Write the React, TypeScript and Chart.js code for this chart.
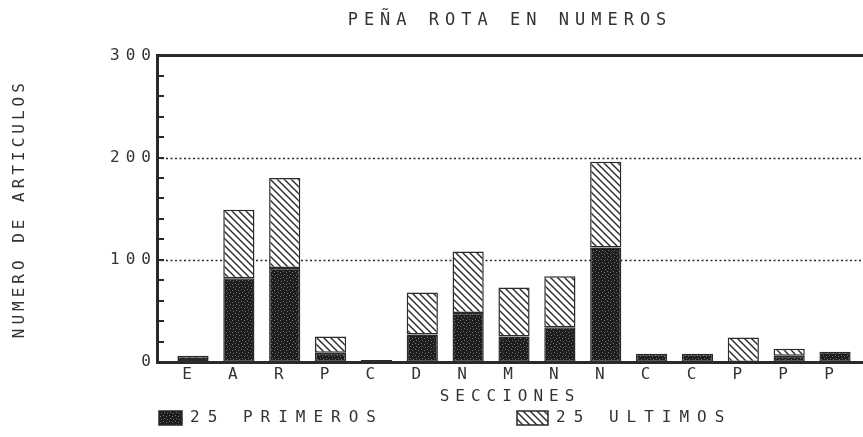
import React, { useEffect, useRef } from 'react';
import { Chart, registerables } from 'chart.js';

Chart.register(...registerables);

const TITLE = 'PEÑA ROTA EN NUMEROS';
const X_TITLE = 'SECCIONES';
const Y_TITLE = 'NUMERO DE ARTICULOS';
const LEGEND_LABELS = ['25 PRIMEROS', '25 ULTIMOS'];

const sections = ['E', 'A', 'R', 'P', 'C', 'D', 'N', 'M', 'N', 'N', 'C', 'C', 'P', 'P', 'P'];
const primeros: (number | null)[] = [3, 82, 92, 9, 2, 27, 48, 25, 34, 112, 8, 8, null, 6, 10];
const ultimos: (number | null)[] = [3, 67, 88, 16, null, 41, 60, 48, 50, 84, null, null, 24, 7, null];

const yTicks = [0, 100, 200, 300];
const MINOR_STEP = 20;

const FONT_FAMILY = "'DejaVu Sans Mono', monospace";
const INK = '#2a2a2a';
const TEXT = '#333333';

function makeDarkPattern(ctx: CanvasRenderingContext2D) {
  const c = document.createElement('canvas');
  c.width = 6;
  c.height = 6;
  const g = c.getContext('2d')!;
  g.fillStyle = '#1e1e1e';
  g.fillRect(0, 0, 6, 6);
  g.fillStyle = '#707070';
  g.fillRect(1, 1, 1, 1);
  g.fillRect(4, 2, 1, 1);
  g.fillRect(2, 4, 1, 1);
  g.fillRect(5, 5, 1, 1);
  return ctx.createPattern(c, 'repeat')!;
}

function makeHatchPattern(ctx: CanvasRenderingContext2D) {
  const s = 7;
  const c = document.createElement('canvas');
  c.width = s;
  c.height = s;
  const g = c.getContext('2d')!;
  g.fillStyle = '#ffffff';
  g.fillRect(0, 0, s, s);
  g.strokeStyle = '#2a2a2a';
  g.lineWidth = 1.4;
  g.beginPath();
  g.moveTo(-2, -2);
  g.lineTo(s + 2, s + 2);
  g.moveTo(-2, s - 2);
  g.lineTo(2, s + 2);
  g.moveTo(s - 2, -2);
  g.lineTo(s + 2, 2);
  g.stroke();
  return ctx.createPattern(c, 'repeat')!;
}

export default function App() {
  const canvasRef = useRef<HTMLCanvasElement | null>(null);

  useEffect(() => {
    const canvas = canvasRef.current;
    if (!canvas) return;
    const ctx0 = canvas.getContext('2d')!;
    const dark = makeDarkPattern(ctx0);
    const hatch = makeHatchPattern(ctx0);
    const font = { family: FONT_FAMILY, size: 16, weight: 'normal' as const };

    const paper = {
      id: 'paper',
      afterLayout(chart: any) {
        const y = chart.scales.y;
        if (y && !y.__patched) {
          const orig = y.drawTitle.bind(y);
          y.drawTitle = (...args: any[]) => {
            const c = chart.ctx;
            const prev = c.letterSpacing;
            c.letterSpacing = '4px';
            orig(...args);
            c.letterSpacing = prev;
          };
          y.__patched = true;
        }
      },
      beforeDraw(chart: any) {
        chart.ctx.letterSpacing = '6px';
      },
      beforeDatasetsDraw(chart: any) {
        const { ctx, chartArea: a, scales } = chart;
        const y = scales.y;
        ctx.save();
        ctx.strokeStyle = INK;
        ctx.lineWidth = 1.6;
        ctx.setLineDash([2, 2.5]);
        yTicks
          .filter((v) => v > 0 && v < 300)
          .forEach((v) => {
            const py = Math.round(y.getPixelForValue(v)) + 0.5;
            ctx.beginPath();
            ctx.moveTo(a.left, py);
            ctx.lineTo(a.right, py);
            ctx.stroke();
          });
        ctx.setLineDash([]);
        ctx.lineWidth = 3;
        const pt = y.getPixelForValue(300);
        ctx.beginPath();
        ctx.moveTo(a.left, pt);
        ctx.lineTo(a.right, pt);
        ctx.stroke();
        ctx.lineWidth = 2;
        for (let v = MINOR_STEP; v < 300; v += MINOR_STEP) {
          const py = Math.round(y.getPixelForValue(v));
          ctx.beginPath();
          ctx.moveTo(a.left, py);
          ctx.lineTo(a.left + 7, py);
          ctx.stroke();
        }
        ctx.restore();
      },
      afterDraw(chart: any) {
        const { ctx, chartArea: a } = chart;
        ctx.save();
        ctx.font = `normal 16px ${FONT_FAMILY}`;
        ctx.letterSpacing = '8px';
        ctx.textBaseline = 'middle';
        ctx.textAlign = 'left';
        const cy = 418;
        const items = [
          { x: a.left + 2, w: 23, fill: dark, label: LEGEND_LABELS[0] },
          { x: a.left + 360, w: 31, fill: hatch, label: LEGEND_LABELS[1] },
        ];
        items.forEach((it) => {
          ctx.fillStyle = it.fill;
          ctx.fillRect(it.x, cy - 7, it.w, 14);
          ctx.strokeStyle = INK;
          ctx.lineWidth = 1.5;
          ctx.strokeRect(it.x, cy - 7, it.w, 14);
          ctx.fillStyle = TEXT;
          ctx.fillText(it.label, it.x + it.w + 8, cy);
        });
        ctx.restore();
      },
    };

    const chart = new Chart(canvas, {
      type: 'bar',
      data: {
        datasets: [
          {
            label: LEGEND_LABELS[0],
            data: sections.map((_, i) => ({ x: i, y: primeros[i] })) as any,
            backgroundColor: dark,
            borderColor: INK,
            borderWidth: 1.5,
            borderSkipped: false,
            barPercentage: 0.68,
            categoryPercentage: 1,
          },
          {
            label: LEGEND_LABELS[1],
            data: sections.map((_, i) => ({ x: i, y: ultimos[i] })) as any,
            backgroundColor: hatch,
            borderColor: INK,
            borderWidth: 1.5,
            borderSkipped: false,
            barPercentage: 0.68,
            categoryPercentage: 1,
          },
        ],
      },
      options: {
        responsive: false,
        animation: false,
        layout: { padding: 0 },
        plugins: {
          legend: { display: false },
          tooltip: { enabled: false },
          title: {
            display: true,
            text: TITLE,
            fullSize: false,
            color: TEXT,
            font: { ...font, size: 17 },
            padding: { top: 10, bottom: 25 },
          },
        },
        scales: {
          x: {
            type: 'linear',
            offset: false,
            min: -0.785,
            max: 14.61,
            stacked: true,
            afterBuildTicks: (s: any) => {
              s.ticks = sections.map((_, i) => ({ value: i }));
            },
            afterFit: (s: any) => {
              s.height = 75;
            },
            ticks: {
              autoSkip: false,
              maxRotation: 0,
              padding: 3,
              labelOffset: -3,
              color: TEXT,
              font,
              callback: (v: any) => sections[v] ?? '',
            },
            grid: { display: false, drawTicks: false, offset: false },
            border: { display: true, width: 3, color: INK },
            title: {
              display: true,
              text: X_TITLE,
              color: TEXT,
              font,
              padding: { top: 0, bottom: 31 },
            },
          } as any,
          y: {
            min: 0,
            max: 300,
            stacked: true,
            afterBuildTicks: (s: any) => {
              s.ticks = yTicks.map((v) => ({ value: v }));
            },
            afterFit: (s: any) => {
              s.width = 157;
            },
            ticks: { padding: 0, color: TEXT, font },
            grid: { display: false, drawTicks: false },
            border: { display: true, width: 3, color: INK },
            title: {
              display: true,
              text: Y_TITLE,
              color: TEXT,
              font,
              padding: { top: 10, bottom: 0 },
            },
          } as any,
        },
      },
      plugins: [paper],
    });

    return () => chart.destroy();
  }, []);

  return (
    <div style={{ position: 'fixed', left: 0, top: 0, width: 863, height: 437, background: '#ffffff' }}>
      <canvas ref={canvasRef} width={863} height={437} style={{ display: 'block' }} />
    </div>
  );
}
